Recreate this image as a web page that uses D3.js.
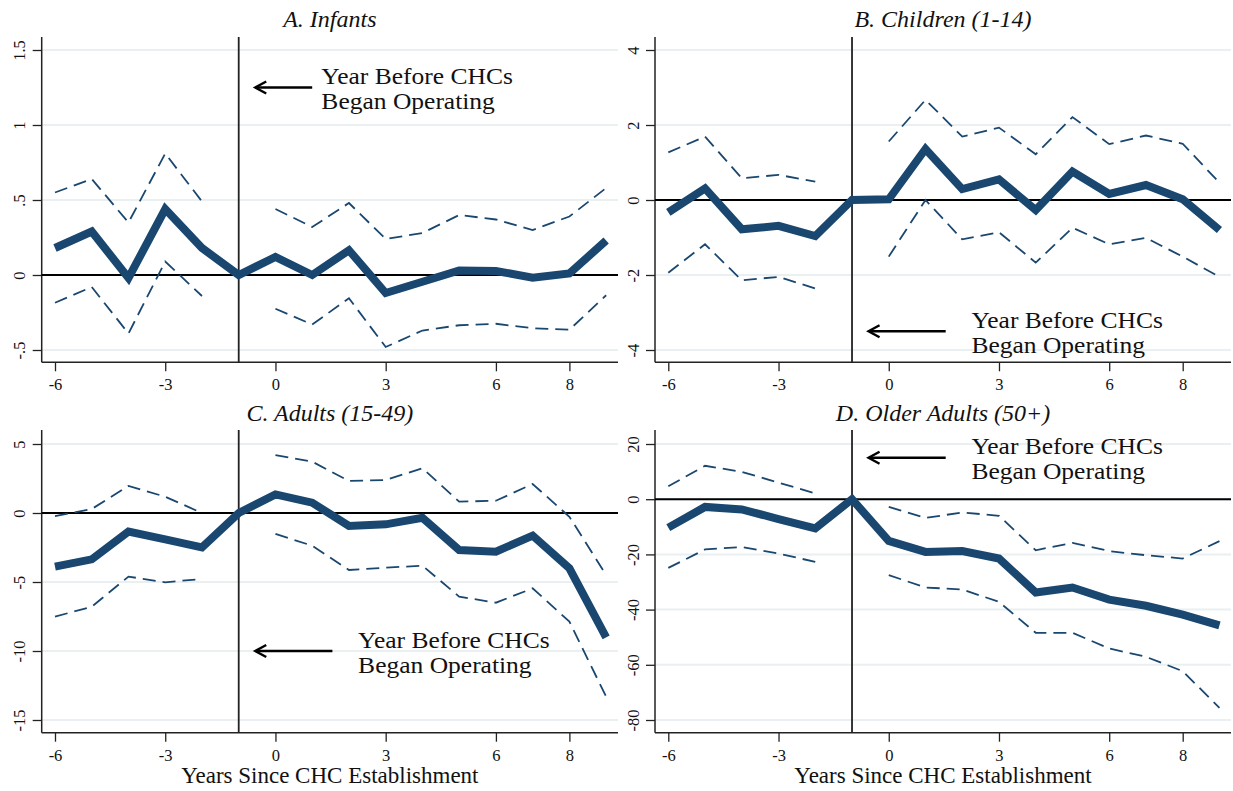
<!DOCTYPE html>
<html>
<head>
<meta charset="utf-8">
<script src="https://cdn.jsdelivr.net/npm/d3@7"></script>
<style>
  html, body { margin: 0; padding: 0; background: #ffffff; }
  svg { display: block; }
</style>
</head>
<body>
<svg id="chart" width="1233" height="791"></svg>
<script>
// ---------- DATA ----------
const years = [-6, -5, -4, -3, -2, -1, 0, 1, 2, 3, 4, 5, 6, 7, 8, 9];
const xTicks = [-6, -3, 0, 3, 6, 8];
const xTickLabels = ["-6", "-3", "0", "3", "6", "8"];

const panelTitles = ["A. Infants", "B. Children (1-14)", "C. Adults (15-49)", "D. Older Adults (50+)"];
const xAxisTitle = "Years Since CHC Establishment";
const noteLines = ["Year Before CHCs", "Began Operating"];

// Panel A: Infants
const infantsEst   = [0.18, 0.29, -0.02, 0.44, 0.18, 0, 0.12, 0.00, 0.165, -0.12, -0.045, 0.03, 0.027, -0.018, 0.01, 0.23];
const infantsUpper = [0.55, 0.64, 0.35, 0.81, 0.49, null, 0.44, 0.32, 0.48, 0.24, 0.28, 0.40, 0.37, 0.30, 0.39, 0.58];
const infantsLower = [-0.185, -0.08, -0.39, 0.09, -0.14, null, -0.225, -0.33, -0.155, -0.48, -0.37, -0.335, -0.325, -0.355, -0.365, -0.135];
const infantsTicks = [1.5, 1, 0.5, 0, -0.5];
const infantsTickLabels = ["1.5", "1", ".5", "0", "-.5"];

// Panel B: Children (1-14)
const childrenEst   = [-0.33, 0.31, -0.78, -0.69, -0.96, 0, 0.02, 1.36, 0.29, 0.55, -0.27, 0.76, 0.16, 0.40, 0.02, -0.80];
const childrenUpper = [1.27, 1.69, 0.58, 0.67, 0.49, null, 1.56, 2.67, 1.69, 1.93, 1.22, 2.21, 1.49, 1.72, 1.50, 0.46];
const childrenLower = [-1.94, -1.18, -2.14, -2.05, -2.36, null, -1.51, 0.0, -1.05, -0.86, -1.67, -0.74, -1.18, -1.01, -1.51, -2.05];
const childrenTicks = [4, 2, 0, -2, -4];
const childrenTickLabels = ["4", "2", "0", "-2", "-4"];

// Panel C: Adults (15-49)
const adultsEst   = [-3.89, -3.36, -1.35, -1.91, -2.49, 0, 1.35, 0.75, -0.94, -0.82, -0.34, -2.68, -2.80, -1.64, -4.01, -9.01];
const adultsUpper = [-0.22, 0.29, 1.96, 1.18, 0.0, null, 4.20, 3.72, 2.32, 2.39, 3.24, 0.82, 0.89, 2.10, -0.27, -4.49];
const adultsLower = [-7.51, -6.79, -4.61, -5.02, -4.78, null, -1.52, -2.37, -4.13, -3.96, -3.82, -6.06, -6.50, -5.46, -7.87, -13.31];
const adultsTicks = [5, 0, -5, -10, -15];
const adultsTickLabels = ["5", "0", "-5", "-10", "-15"];

// Panel D: Older Adults (50+)
const olderEst   = [-10.3, -2.8, -3.7, -7.2, -10.6, 0, -15.1, -19.1, -18.8, -21.5, -33.8, -32.0, -36.4, -38.6, -41.8, -45.7];
const olderUpper = [4.7, 12.1, 9.9, 6.0, 2.1, null, -2.8, -6.8, -4.8, -6.0, -18.5, -15.8, -18.8, -20.3, -21.5, -15.2];
const olderLower = [-24.9, -18.2, -17.3, -19.7, -22.7, null, -27.5, -32.0, -32.7, -37.2, -48.4, -48.4, -54.1, -57.1, -62.3, -75.6];
const olderTicks = [20, 0, -20, -40, -60, -80];
const olderTickLabels = ["20", "0", "-20", "-40", "-60", "-80"];

// Annotation anchor (data coordinates): arrow y, arrow head x, arrow tail x, text x
const noteY = [1.25, -3.5, -10, 15];
const noteHeadX = [-0.55, -0.55, -0.55, -0.55];
const noteTailX = [1.0, 1.55, 1.55, 1.55];
const noteTextX = [1.25, 2.25, 2.25, 2.25];

// ---------- LAYOUT ----------
const NAVY = "#1a476f";
const svg = d3.select("#chart");
const FONT = "'Liberation Serif', 'Times New Roman', serif";

const panels = [
  { title: panelTitles[0], est: infantsEst, up: infantsUpper, lo: infantsLower, ticks: infantsTicks, labels: infantsTickLabels,
    left: 41.7, right: 618, top: 37, bottom: 362.3, yd: [1.5, -0.5], yr: [50, 350], titleY: 27, xlab: false },
  { title: panelTitles[1], est: childrenEst, up: childrenUpper, lo: childrenLower, ticks: childrenTicks, labels: childrenTickLabels,
    left: 655, right: 1231, top: 37, bottom: 362.3, yd: [4, -4], yr: [50, 350], titleY: 27, xlab: false },
  { title: panelTitles[2], est: adultsEst, up: adultsUpper, lo: adultsLower, ticks: adultsTicks, labels: adultsTickLabels,
    left: 41.7, right: 618, top: 430, bottom: 732.7, yd: [5, -15], yr: [444, 720], titleY: 421, xlab: true },
  { title: panelTitles[3], est: olderEst, up: olderUpper, lo: olderLower, ticks: olderTicks, labels: olderTickLabels,
    left: 655, right: 1231, top: 430, bottom: 732.7, yd: [20, -80], yr: [444, 720], titleY: 421, xlab: true }
];

panels.forEach((p, i) => {
  const g = svg.append("g");
  const x = d3.scaleLinear().domain([-6, 8]).range([p.left + 13.3, p.left + 13.3 + 514.4]);
  const y = d3.scaleLinear().domain(p.yd).range(p.yr);

  // gridlines
  g.selectAll(".grid").data(p.ticks).enter().append("line")
    .attr("x1", p.left).attr("x2", p.right)
    .attr("y1", d => y(d)).attr("y2", d => y(d))
    .attr("stroke", "#eaf0f2").attr("stroke-width", 2);

  // y axis
  const yAxis = d3.axisLeft(y).tickValues(p.ticks).tickSize(9).tickFormat((d, k) => p.labels[k]);
  const ya = g.append("g").attr("transform", `translate(${p.left},0)`).call(yAxis)
    .attr("font-family", FONT).attr("font-size", 16.5);
  ya.select(".domain").remove();
  ya.selectAll(".tick line").attr("stroke", "#222").attr("stroke-width", 1.3);
  ya.selectAll(".tick text")
    .style("font-family", FONT).attr("font-size", 16.5).attr("fill", "#111")
    .attr("text-anchor", "middle")
    .attr("x", null).attr("dy", null)
    .attr("transform", "translate(-16.5,0) rotate(-90)")
    .attr("y", 0);
  g.append("line").attr("x1", p.left).attr("x2", p.left).attr("y1", p.top).attr("y2", p.bottom)
    .attr("stroke", "#222").attr("stroke-width", 1.5);

  // x axis
  const xAxis = d3.axisBottom(x).tickValues(xTicks).tickSize(9).tickFormat((d, k) => xTickLabels[k]);
  const xa = g.append("g").attr("transform", `translate(0,${p.bottom})`).call(xAxis)
    .attr("font-family", FONT).attr("font-size", 16.5);
  xa.select(".domain").remove();
  xa.selectAll(".tick line").attr("stroke", "#222").attr("stroke-width", 1.3);
  xa.selectAll(".tick text")
    .style("font-family", FONT).attr("font-size", 16.5).attr("fill", "#111")
    .attr("y", 28).attr("dy", null);
  g.append("line").attr("x1", p.left).attr("x2", p.right).attr("y1", p.bottom).attr("y2", p.bottom)
    .attr("stroke", "#222").attr("stroke-width", 1.5);

  // zero line
  g.append("line").attr("x1", p.left).attr("x2", p.right).attr("y1", y(0)).attr("y2", y(0))
    .attr("stroke", "#000").attr("stroke-width", 2);

  // vertical reference line at -1
  g.append("line").attr("x1", x(-1)).attr("x2", x(-1)).attr("y1", p.top).attr("y2", p.bottom)
    .attr("stroke", "#222").attr("stroke-width", 1.8);

  // CI dashed lines
  const line = d3.line().defined(d => d[1] !== null).x(d => x(d[0])).y(d => y(d[1]));
  [p.up, p.lo].forEach(arr => {
    g.append("path").datum(years.map((yr, k) => [yr, arr[k]]))
      .attr("d", line).attr("fill", "none")
      .attr("stroke", NAVY).attr("stroke-width", 1.8)
      .attr("stroke-dasharray", "13,7");
  });

  // estimate line
  g.append("path").datum(years.map((yr, k) => [yr, p.est[k]]))
    .attr("d", line).attr("fill", "none")
    .attr("stroke", NAVY).attr("stroke-width", 8)
    .attr("stroke-linejoin", "miter").attr("stroke-miterlimit", 3);

  // title
  g.append("text").attr("x", (p.left + p.right) / 2).attr("y", p.titleY)
    .attr("text-anchor", "middle").attr("font-family", FONT).attr("font-style", "italic")
    .attr("font-size", 24).attr("fill", "#111").text(p.title);

  // x axis title
  if (p.xlab) {
    g.append("text").attr("x", (p.left + p.right) / 2).attr("y", 783)
      .attr("text-anchor", "middle").attr("font-family", FONT)
      .attr("font-size", 23).attr("fill", "#111").text(xAxisTitle);
  }

  // annotation arrow
  const ay = y(noteY[i]);
  const hx = x(noteHeadX[i]);
  g.append("line")
    .attr("x1", x(noteTailX[i])).attr("x2", hx + 1)
    .attr("y1", ay).attr("y2", ay)
    .attr("stroke", "#000").attr("stroke-width", 2.4);
  g.append("path")
    .attr("d", `M${hx + 11},${ay - 6} L${hx},${ay} L${hx + 11},${ay + 6}`)
    .attr("fill", "none").attr("stroke", "#000").attr("stroke-width", 2.4)
    .attr("stroke-linejoin", "miter");
  // note text: slightly compact font, stretched horizontally to the reference width
  noteLines.forEach((s, k) => {
    const tx = g.append("text").attr("x", x(noteTextX[i])).attr("y", ay - 3.5 + k * 25)
      .attr("font-family", FONT).attr("font-size", 22.5).attr("fill", "#111")
      .text(s);
    const w = tx.node().getComputedTextLength();
    tx.attr("textLength", w * 25.5 / 22.5).attr("lengthAdjust", "spacingAndGlyphs");
  });
});
</script>
</body>
</html>
